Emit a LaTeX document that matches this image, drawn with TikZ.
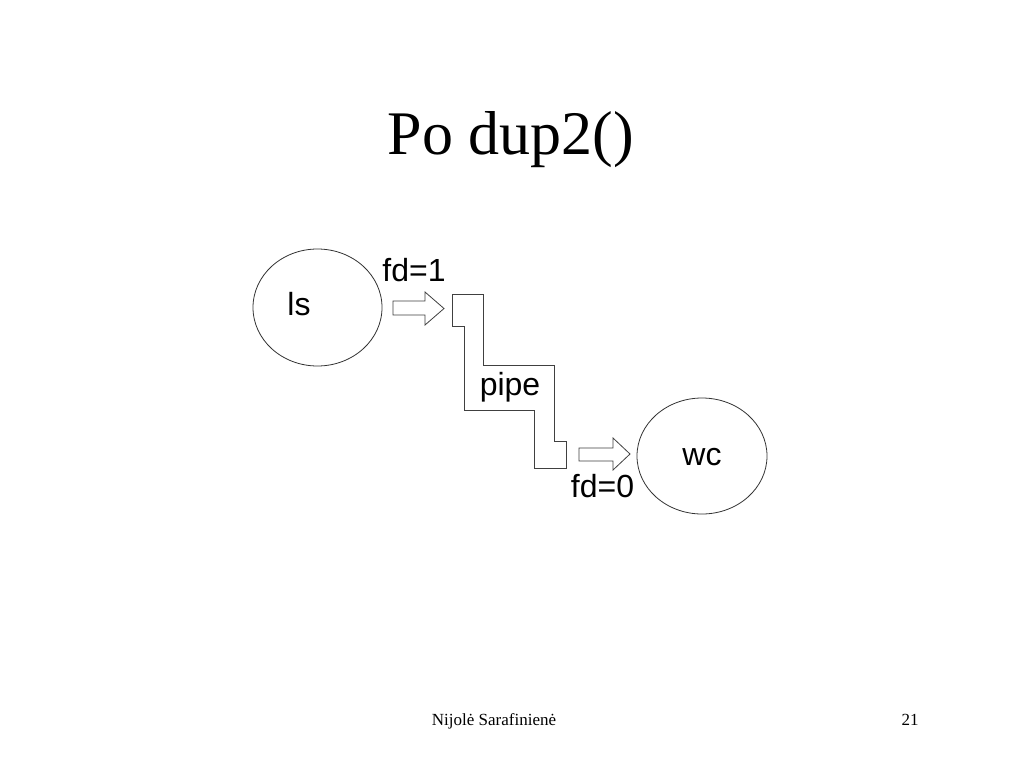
\documentclass[tikz,border=0pt]{standalone}
\usepackage{fontspec}
\setmainfont{Liberation Serif}
\newfontfamily\labelfont{Liberation Sans}
\usetikzlibrary{shapes.geometric}
\begin{document}
\begin{tikzpicture}[x=1pt,y=-1pt,
  proc/.style={draw=black!80,line width=0.8pt,ellipse,inner sep=0pt},
  shape line/.style={draw=black!75,line width=0.8pt},
  lbl/.style={font=\labelfont\fontsize{32}{36}\selectfont,inner sep=0pt},
]
\path[fill=white] (0,0) rectangle (1024,768);
\useasboundingbox (0,0) rectangle (1024,768);
% title
\node[font=\fontsize{62}{70}\selectfont,inner sep=0pt,anchor=base] (title) at (511,154) {Po dup2()};
% processes
\node[proc,minimum width=129pt,minimum height=117pt] (ls) at (317.5,307.5) {};
\node[lbl] (lstxt) at (299,304) {ls};
\node[proc,minimum width=130pt,minimum height=116pt] (wc) at (702,456) {};
\node[lbl] (wctxt) at (702,457) {wc};
% arrows
\draw[shape line] (393,301) -- (425,301) -- (425,292) -- (444,308.5) -- (425,325) -- (425,315) -- (393,315) -- cycle;
\draw[shape line] (579,448) -- (613,448) -- (613,438) -- (630,454) -- (613,470) -- (613,461) -- (579,461) -- cycle;
% pipe
\draw[shape line] (452.7,294) -- (483.3,294) -- (483.3,365.7) -- (554,365.7) -- (554,441.7) -- (566,441.7)
  -- (566,468.3) -- (534,468.3) -- (534,410) -- (464,410) -- (464,326.7) -- (452.7,326.7) -- cycle;
\node[lbl] (pipetxt) at (510,387) {pipe};
% fd labels
\node[lbl,anchor=base] (fd1) at (414,281) {fd=1};
\node[lbl,anchor=base] (fd0) at (602.5,497) {fd=0};
% footer
\node[font=\fontsize{17}{20}\selectfont,inner sep=0pt,anchor=base] (author) at (494,725) {Nijolė Sarafinienė};
\node[font=\fontsize{17}{20}\selectfont,inner sep=0pt,anchor=base] (page) at (910,725) {21};
\end{tikzpicture}
\end{document}
